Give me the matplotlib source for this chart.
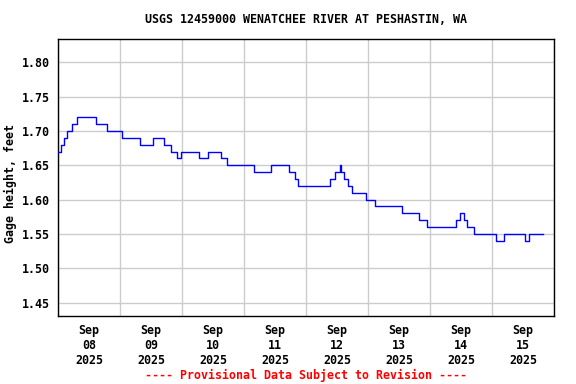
import numpy as np
import pandas as pd
import matplotlib
matplotlib.use("Agg")
import matplotlib.pyplot as plt
import matplotlib.dates as mdates
from matplotlib.font_manager import FontProperties

# change points of the stage record: hours after 2025-09-08 00:00, gage height (ft)
hours = [0.0, 1.0, 2.2, 3.5, 5.4, 7.5, 14.7, 18.8, 24.7, 31.8, 36.6, 40.9,
         43.6, 46.2, 47.8, 54.6, 57.9, 63.1, 65.5, 76.0, 82.3, 89.6, 91.6,
         93.0, 105.4, 107.2, 109.2, 109.6, 110.7, 112.1, 113.9, 119.1, 122.7,
         133.2, 139.6, 143.0, 154.1, 155.6, 157.0, 158.3, 161.0, 169.4, 172.6,
         180.8, 182.4, 187.6]
stage = [1.67, 1.68, 1.69, 1.70, 1.71, 1.72, 1.71, 1.70, 1.69, 1.68, 1.69, 1.68,
         1.67, 1.66, 1.67, 1.66, 1.67, 1.66, 1.65, 1.64, 1.65, 1.64, 1.63,
         1.62, 1.63, 1.64, 1.65, 1.64, 1.63, 1.62, 1.61, 1.60, 1.59,
         1.58, 1.57, 1.56, 1.57, 1.58, 1.57, 1.56, 1.55, 1.54, 1.55,
         1.54, 1.55, 1.55]
yticks = [1.45, 1.50, 1.55, 1.60, 1.65, 1.70, 1.75, 1.80]

title = "USGS 12459000 WENATCHEE RIVER AT PESHASTIN, WA"
ylabel = "Gage height, feet"
note = "---- Provisional Data Subject to Revision ----"

t0 = pd.Timestamp("2025-09-08 00:00")
times = t0 + pd.to_timedelta(hours, unit="h")

font = {"family": "DejaVu Sans Mono", "weight": "bold", "size": 8.4}
fp = FontProperties(**font)

fig = plt.figure(figsize=(5.76, 3.84), dpi=100)
ax = fig.add_axes([0.1007, 0.177, 0.861, 0.7207])

ax.plot(times, stage, drawstyle="steps-post", color="#0000ff", lw=1.0, zorder=3)

ax.set_xlim(t0, t0 + pd.Timedelta(days=8))
ax.set_ylim(1.4305, 1.8335)
ax.set_yticks(yticks)
ax.set_yticklabels([f"{v:.2f}" for v in yticks])

ax.xaxis.set_major_locator(mdates.HourLocator(byhour=[12]))
ax.xaxis.set_major_formatter(mdates.DateFormatter("%b\n%d\n%Y"))
ax.xaxis.set_minor_locator(mdates.DayLocator())
ax.tick_params(axis="both", which="both", length=0, pad=6)
for lab in ax.get_xticklabels() + ax.get_yticklabels():
    lab.set_fontproperties(fp)
ax.grid(True, which="minor", axis="x", color="#cccccc", lw=1)
ax.grid(True, which="major", axis="y", color="#cccccc", lw=1)
ax.set_axisbelow(True)
for s in ax.spines.values():
    s.set_linewidth(1.0)
    s.set_color("black")

ax.set_ylabel(ylabel, fontproperties=fp)
ax.yaxis.set_label_coords(-0.082, 0.48)
fig.text(0.531, 0.95, title, ha="center", va="center", fontproperties=fp)
fig.text(0.531, 0.023, note, ha="center", va="center", color="red", fontproperties=fp)

fig.savefig("out.png", dpi=100)
